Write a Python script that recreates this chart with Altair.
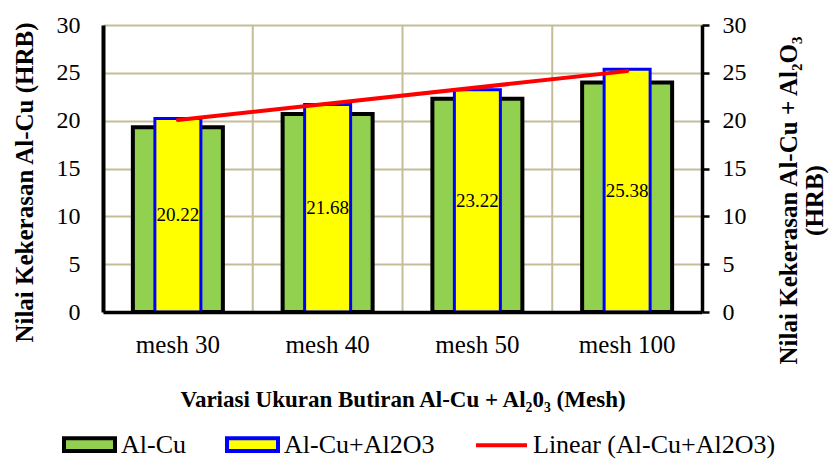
import json
import altair as alt
import pandas as pd

# ---- data ----
categories = ["mesh 30", "mesh 40", "mesh 50", "mesh 100"]
cat_index = [1, 2, 3, 4]
al_cu = [19.3, 20.7, 22.3, 24.0]
al_cu_al2o3 = [20.22, 21.68, 23.22, 25.38]
series_names = ["Al-Cu", "Al-Cu+Al2O3", "Linear (Al-Cu+Al2O3)"]
y_ticks = [0, 5, 10, 15, 20, 25, 30]

df = pd.DataFrame({"cat": categories, "idx": cat_index, "alcu": al_cu, "comp": al_cu_al2o3})
legend_df = pd.DataFrame({"series": series_names})

FONT = "Liberation Serif"
GRID = "#C4BD97"
GREEN = "#92D050"
YELLOW = "#FFFF00"
BLUE = "#0000FF"
RED = "#FF0000"

xscale = alt.Scale(paddingInner=0, paddingOuter=0)
x_axis = alt.Axis(
    labelAngle=0, labelFont=FONT, labelFontSize=25, labelColor="black",
    labelBaseline="middle", labelPadding=32,
    ticks=False, grid=False, zindex=1,
    domainColor="black", domainWidth=3.5,
    title="Variasi Ukuran Butiran Al-Cu + Al\u20820\u2083 (Mesh)",
    titleFont=FONT, titleFontSize=23, titleFontWeight="bold", titleColor="black",
    titleY=87, titleBaseline="middle",
)


def xenc(**kw):
    return alt.X("cat:N", sort=categories, scale=xscale, axis=x_axis, **kw)


yscale = alt.Scale(domain=[0, 30], nice=False, zero=True)

left_axis = alt.Axis(
    orient="left", values=y_ticks, grid=False,
    domainColor="black", domainWidth=4, ticks=False, zindex=1,
    labelFont=FONT, labelFontSize=24, labelColor="black", labelPadding=23,
    title="Nilai Kekerasan Al-Cu (HRB)", titleFont=FONT, titleFontSize=25,
    titleFontWeight="bold", titleColor="black",
    titleX=-79, titleY=157, titleAngle=270, titleAlign="center", titleBaseline="middle",
)
grid_axis = alt.Axis(
    orient="left", values=y_ticks, grid=True, gridColor=GRID, gridWidth=2,
    domain=False, ticks=False, labels=False, title=None, zindex=0,
)
right_axis = alt.Axis(
    orient="right", values=y_ticks, grid=False, zindex=1,
    domainColor="black", domainWidth=3.5, ticks=True, tickSize=7, tickWidth=2.5,
    tickColor="black",
    labelFont=FONT, labelFontSize=24, labelColor="black", labelPadding=13,
    title=["Nilai Kekerasan Al-Cu + Al\u2082O\u2083", "(HRB)"], titleFont=FONT,
    titleFontSize=25, titleFontWeight="bold", titleColor="black", titleLineHeight=26,
    titleX=86, titleY=175, titleAngle=270, titleAlign="center", titleBaseline="middle",
)

base = alt.Chart(df)

vgrid = base.mark_rule(color=GRID, strokeWidth=2).encode(
    x=xenc(bandPosition=1)
)

green = base.mark_bar(size=90, fill=GREEN, stroke="black", strokeWidth=4).encode(
    x=xenc(),
    y=alt.Y("alcu:Q", scale=yscale, axis=left_axis),
)

yellow = base.mark_bar(size=46, fill=YELLOW, stroke=BLUE, strokeWidth=3).encode(
    x=xenc(),
    y=alt.Y("comp:Q", scale=yscale, axis=right_axis),
)

cat_expr = json.dumps(categories) + "[round(datum.idx) - 1]"
trend = base.transform_regression("idx", "comp", method="linear").transform_calculate(
    cat=cat_expr
).mark_line(color=RED, strokeWidth=4, strokeCap="round").encode(
    x=xenc(),
    y=alt.Y("comp:Q", scale=yscale, axis=None),
)

labels = base.transform_calculate(mid="datum.comp / 2").mark_text(
    font=FONT, fontSize=19, color="black", baseline="middle", align="center"
).encode(
    x=xenc(),
    y=alt.Y("mid:Q", scale=yscale, axis=grid_axis),
    text=alt.Text("comp:Q", format=".2f"),
)

rect_path = "M-1,-0.25H1V0.25H-1Z"
line_path = "M-1,0H1"
legend_layer = alt.Chart(legend_df).transform_filter("false").mark_point(
    filled=True, opacity=1, size=2601, strokeWidth=4
).encode(
    shape=alt.Shape("series:N", scale=alt.Scale(domain=series_names, range=[rect_path, rect_path, line_path]), legend=alt.Legend(title=None)),
    fill=alt.Fill("series:N", scale=alt.Scale(domain=series_names, range=[GREEN, YELLOW, "transparent"]), legend=alt.Legend(title=None)),
    stroke=alt.Stroke("series:N", scale=alt.Scale(domain=series_names, range=["black", BLUE, RED]), legend=alt.Legend(title=None)),
)

chart = alt.layer(vgrid, green, yellow, trend, labels, legend_layer).resolve_scale(
    y="independent"
).properties(
    width=599, height=287,
    autosize=alt.AutoSizeParams(type="none"),
    padding={"left": 103, "top": 25, "right": 127, "bottom": 147},
    background="white",
).configure_view(stroke=None).configure_legend(
    orient="none", legendX=-41, legendY=392, direction="horizontal",
    labelFont=FONT, labelFontSize=26, labelColor="black", labelOffset=4,
    columnPadding=33, symbolStrokeWidth=4, symbolSize=2601, padding=0,
    labelLimit=400,
)

chart.save("out.html", embed_options={"renderer": "svg", "actions": False})
